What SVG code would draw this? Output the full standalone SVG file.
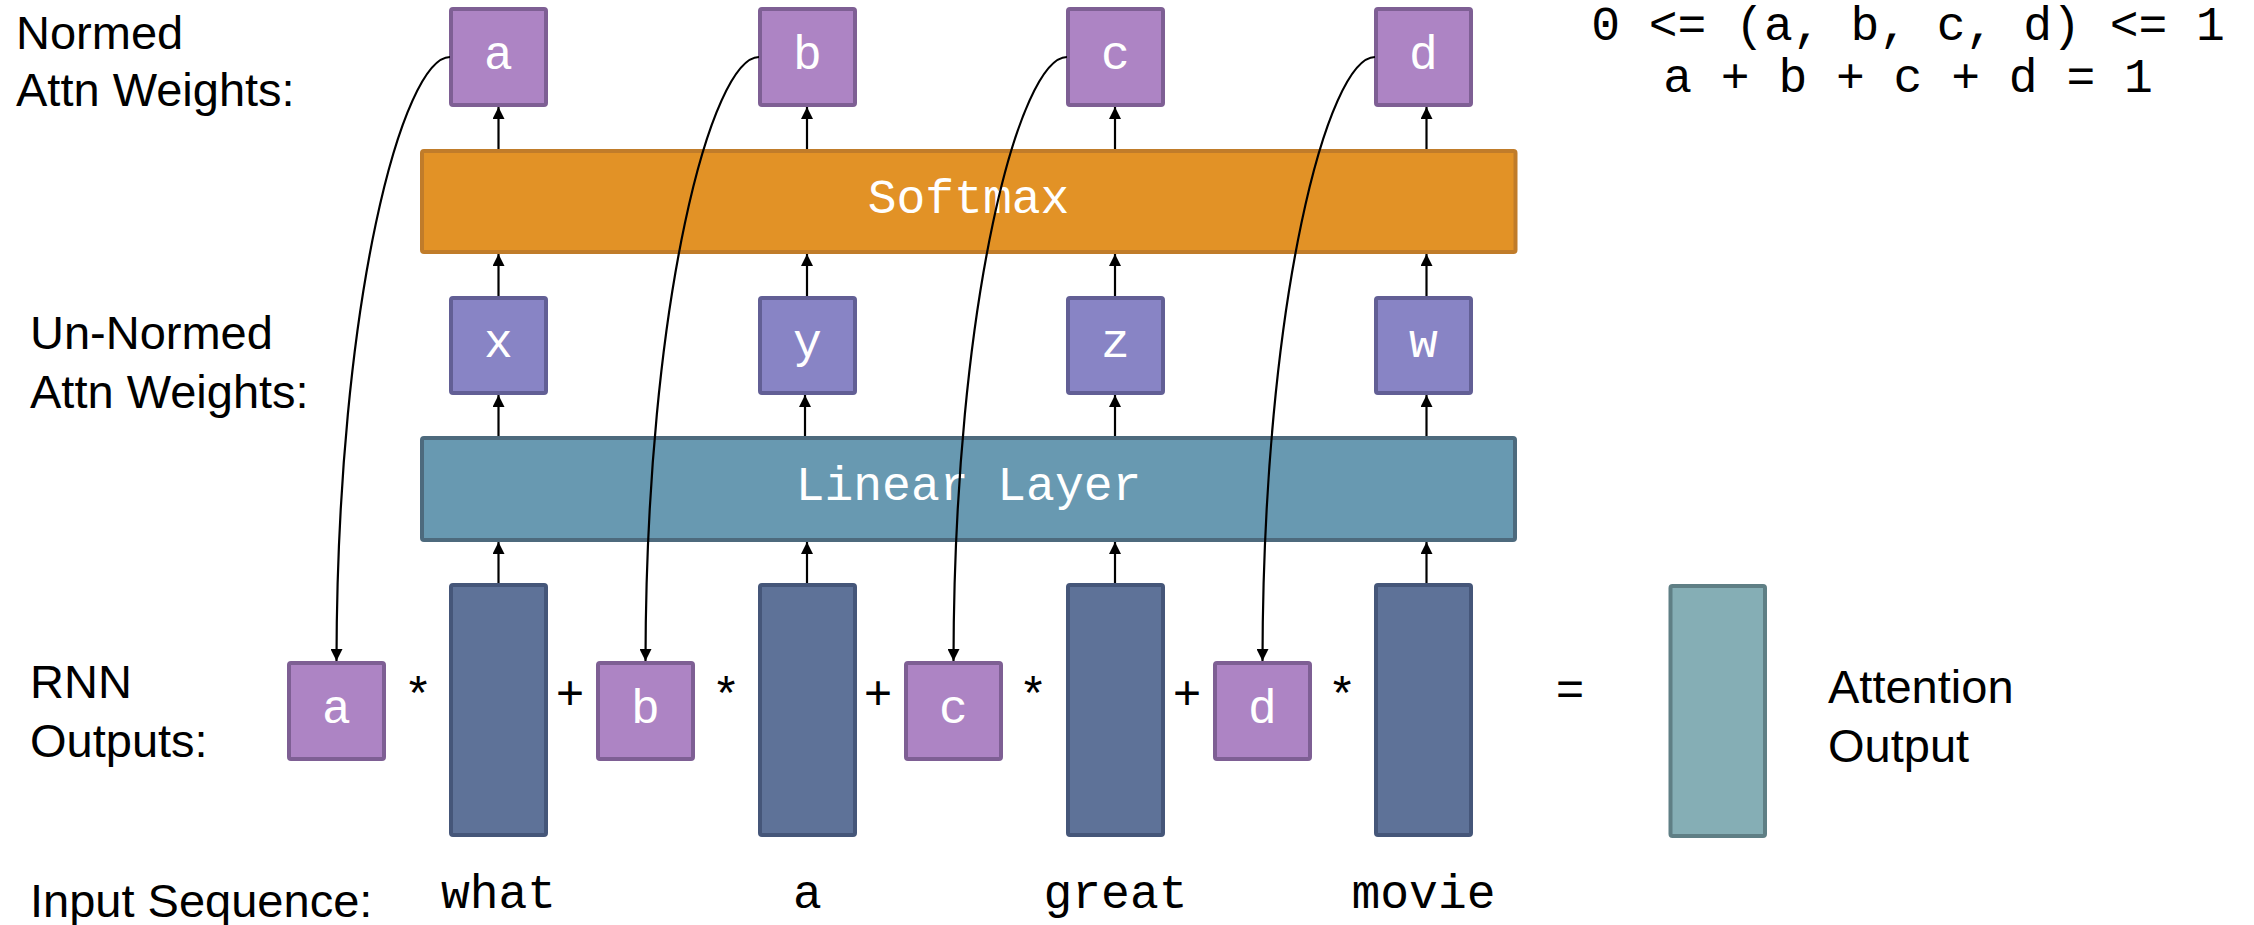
<svg xmlns="http://www.w3.org/2000/svg" width="2254" height="925" viewBox="0 0 2254 925">
<style>
.lbl{font-family:"Liberation Sans",Arial,sans-serif;font-size:47px;fill:#000}
.mono{font-family:"Liberation Mono","Courier New",monospace;font-size:48px}
.wt{fill:#fff;text-anchor:middle}
.bk{fill:#000}
.op{font-family:"Liberation Sans",Arial,sans-serif;font-size:48px;fill:#000;text-anchor:middle}
.norm{fill:#AD84C4;stroke:#7E5F94;stroke-width:4}
.un{fill:#8884C5;stroke:#625F95;stroke-width:4}
.soft{fill:#E29226;stroke:#C07C2A;stroke-width:4}
.lin{fill:#6899B1;stroke:#4D6A7D;stroke-width:4}
.rnn{fill:#5E7298;stroke:#455679;stroke-width:4}
.att{fill:#85AEB5;stroke:#5F7F85;stroke-width:4}
.conn{fill:none;stroke:#000;stroke-width:2.2;marker-end:url(#ah)}
</style>
<defs>
<marker id="ah" markerUnits="userSpaceOnUse" markerWidth="12" markerHeight="12" refX="12" refY="6" orient="auto">
<path d="M0,0 L12,6 L0,12 z" fill="#000"/>
</marker>
</defs>

<g id="labels">
<text class="lbl" x="16" y="49">Normed</text>
<text class="lbl" x="16" y="106">Attn Weights:</text>
<text class="lbl" x="30" y="349">Un-Normed</text>
<text class="lbl" x="30" y="408">Attn Weights:</text>
<text class="lbl" x="30" y="698">RNN</text>
<text class="lbl" x="30" y="757">Outputs:</text>
<text class="lbl" x="30" y="917">Input Sequence:</text>
<text class="lbl" x="1828" y="703">Attention</text>
<text class="lbl" x="1828" y="762">Output</text>
<text class="mono bk" x="1908" y="40" text-anchor="middle" xml:space="preserve">0 &lt;= (a, b, c, d) &lt;= 1</text>
<text class="mono bk" x="1908" y="92" text-anchor="middle" xml:space="preserve">a + b + c + d = 1</text>
</g>

<g id="softmax"><rect class="soft" x="422" y="151" width="1093.5" height="101" rx="2"/><text class="mono wt" x="968.5" y="213">Softmax</text></g>
<g id="linear"><rect class="lin" x="422" y="438" width="1093" height="102" rx="2"/><text class="mono wt" x="968.5" y="500">Linear Layer</text></g>

<g id="norm_a"><rect class="norm" x="451" y="9" width="95" height="96" rx="2"/><text class="mono wt" x="498.5" y="69">a</text></g>
<g id="norm_b"><rect class="norm" x="760" y="9" width="95" height="96" rx="2"/><text class="mono wt" x="807.5" y="69">b</text></g>
<g id="norm_c"><rect class="norm" x="1068" y="9" width="95" height="96" rx="2"/><text class="mono wt" x="1115.5" y="69">c</text></g>
<g id="norm_d"><rect class="norm" x="1376" y="9" width="95" height="96" rx="2"/><text class="mono wt" x="1423.5" y="69">d</text></g>

<g id="un_x"><rect class="un" x="451" y="298" width="95" height="95" rx="2"/><text class="mono wt" x="498.5" y="357">x</text></g>
<g id="un_y"><rect class="un" x="760" y="298" width="95" height="95" rx="2"/><text class="mono wt" x="807.5" y="357">y</text></g>
<g id="un_z"><rect class="un" x="1068" y="298" width="95" height="95" rx="2"/><text class="mono wt" x="1115.5" y="357">z</text></g>
<g id="un_w"><rect class="un" x="1376" y="298" width="95" height="95" rx="2"/><text class="mono wt" x="1423.5" y="357">w</text></g>

<g id="rnn_what"><rect class="rnn" x="451" y="585" width="95" height="250" rx="2"/><text class="mono bk" x="498.5" y="908" text-anchor="middle">what</text></g>
<g id="rnn_a"><rect class="rnn" x="760" y="585" width="95" height="250" rx="2"/><text class="mono bk" x="807.5" y="908" text-anchor="middle">a</text></g>
<g id="rnn_great"><rect class="rnn" x="1068" y="585" width="95" height="250" rx="2"/><text class="mono bk" x="1115.5" y="908" text-anchor="middle">great</text></g>
<g id="rnn_movie"><rect class="rnn" x="1376" y="585" width="95" height="250" rx="2"/><text class="mono bk" x="1423.5" y="908" text-anchor="middle">movie</text></g>

<g id="w_a"><rect class="norm" x="289" y="663" width="95" height="96" rx="2"/><text class="mono wt" x="336.5" y="723">a</text></g>
<g id="w_b"><rect class="norm" x="598" y="663" width="95" height="96" rx="2"/><text class="mono wt" x="645.5" y="723">b</text></g>
<g id="w_c"><rect class="norm" x="906" y="663" width="95" height="96" rx="2"/><text class="mono wt" x="953.5" y="723">c</text></g>
<g id="w_d"><rect class="norm" x="1215" y="663" width="95" height="96" rx="2"/><text class="mono wt" x="1262.5" y="723">d</text></g>

<g id="attention_output"><rect class="att" x="1670.5" y="586" width="94.5" height="250" rx="2"/></g>

<g id="operators">
<text class="op" x="418" y="709">*</text>
<text class="op" x="570" y="709">+</text>
<text class="op" x="726" y="709">*</text>
<text class="op" x="878" y="709">+</text>
<text class="op" x="1033" y="709">*</text>
<text class="op" x="1187" y="709">+</text>
<text class="op" x="1342" y="709">*</text>
<text class="op" x="1570" y="705">=</text>
</g>

<g id="connectors">
<path class="conn" d="M498.5,583 V542"/>
<path class="conn" d="M807,583 V542"/>
<path class="conn" d="M1115,583 V542"/>
<path class="conn" d="M1426.5,583 V542"/>
<path class="conn" d="M498.5,436 V395"/>
<path class="conn" d="M805,436 V395"/>
<path class="conn" d="M1115,436 V395"/>
<path class="conn" d="M1426.5,436 V395"/>
<path class="conn" d="M498.5,296 V254"/>
<path class="conn" d="M807,296 V254"/>
<path class="conn" d="M1115,296 V254"/>
<path class="conn" d="M1426.5,296 V254"/>
<path class="conn" d="M498.5,149 V107"/>
<path class="conn" d="M807,149 V107"/>
<path class="conn" d="M1115,149 V107"/>
<path class="conn" d="M1426.5,149 V107"/>
<path class="conn" d="M450,57 C403,57 337,300 336.5,661"/>
<path class="conn" d="M759,57 C712,57 646,300 645.5,661"/>
<path class="conn" d="M1067,57 C1020,57 954,300 953.5,661"/>
<path class="conn" d="M1375,57 C1328,57 1263,300 1262.5,661"/>
</g>
</svg>
